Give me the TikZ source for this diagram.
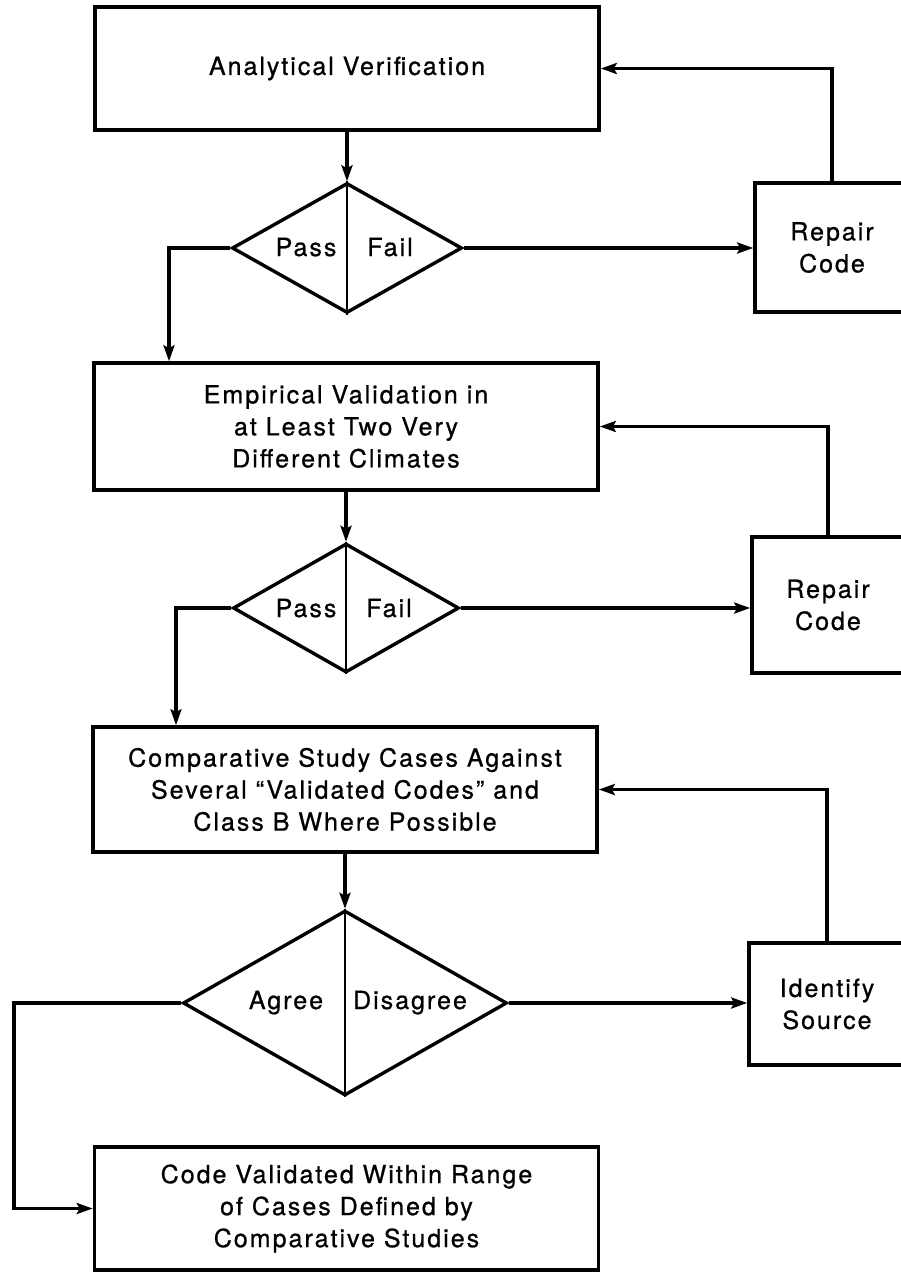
\documentclass[tikz,border=0pt]{standalone}
\usepackage{fontspec}
\setmainfont{TeX Gyre Heros}[LetterSpace=8,FakeBold=0.8]
\usetikzlibrary{shapes.geometric,arrows.meta}
\begin{document}
\begin{tikzpicture}[x=1pt,y=-1pt,
  every node/.style={font=\fontsize{25}{32}\selectfont},
  box/.style={draw,line width=3.6pt,minimum width=504pt,align=center,inner sep=0pt},
  sidebox/.style={draw,line width=3.6pt,align=center,inner sep=0pt},
  decision/.style={draw,diamond,line width=3.4pt,inner sep=0pt},
  divider/.style={line width=2.8pt},
  flow/.style={line width=3.4pt,-{Stealth[length=16pt,width=11pt,inset=3pt]}},
  lbl/.style={anchor=base}]
\useasboundingbox (0,0) rectangle (901,1272);

% main column
\node[box,minimum height=123pt] (av) at (347,68.5) {Analytical Verification};
\node[decision,minimum width=230pt,minimum height=130pt] (d1) at (347,248) {};
\node[box,minimum height=127pt] (ev) at (346,426.5)
  {Empirical Validation in\\at Least Two Very\\Different Climates};
\node[decision,minimum width=226pt,minimum height=129pt] (d2) at (346,608) {};
\node[box,minimum height=125pt] (cs) at (345,789.5)
  {Comparative Study Cases Against\\Several ``Validated Codes'' and\\Class B Where Possible};
\node[decision,minimum width=324pt,minimum height=185pt] (d3) at (345,1003) {};
\node[box,minimum height=123pt] (cv) at (346.5,1208.5)
  {Code Validated Within Range\\of Cases Defined by\\Comparative Studies};

% side boxes
\node[sidebox,minimum width=154pt,minimum height=129pt] (rc1) at (832,247.5) {Repair\\Code};
\node[sidebox,minimum width=152pt,minimum height=136pt] (rc2) at (828,605) {Repair\\Code};
\node[sidebox,minimum width=156pt,minimum height=122pt] (is) at (827,1004) {Identify\\Source};

% decision dividers and labels
\draw[divider] (d1.north) -- (d1.south);
\draw[divider] (d2.north) -- (d2.south);
\draw[divider] (d3.north) -- (d3.south);
\node[lbl] (pass1) at (306,256) {Pass};
\node[lbl] (fail1) at (390,256) {Fail};
\node[lbl] (pass2) at (306,617) {Pass};
\node[lbl] (fail2) at (389,617) {Fail};
\node[lbl] (agree) at (286,1009) {Agree};
\node[lbl] (disagree) at (410,1009) {Disagree};

% downward flow
\draw[flow] (av.south) -- (d1.north);
\draw[flow] (ev.south) -- (d2.north);
\draw[flow] (cs.south) -- (d3.north);

% pass / agree branches
\coordinate (j1) at (169,248);
\coordinate (j2) at (176,608);
\coordinate (j3) at (14,1003);
\draw[flow] (d1.west) -- (j1) -- (j1 |- ev.north);
\draw[flow] (d2.west) -- (j2) -- (j2 |- cs.north);
\draw[flow] (d3.west) -- (j3) |- (cv.west);

% fail / disagree branches
\draw[flow] (d1.east) -- (d1.east -| rc1.west);
\draw[flow] (d2.east) -- (d2.east -| rc2.west);
\draw[flow] (d3.east) -- (d3.east -| is.west);

% feedback loops
\draw[flow] (rc1.north) |- (av.east);
\draw[flow] (rc2.north) |- (ev.east);
\draw[flow] (is.north) |- (cs.east);
\end{tikzpicture}
\end{document}
